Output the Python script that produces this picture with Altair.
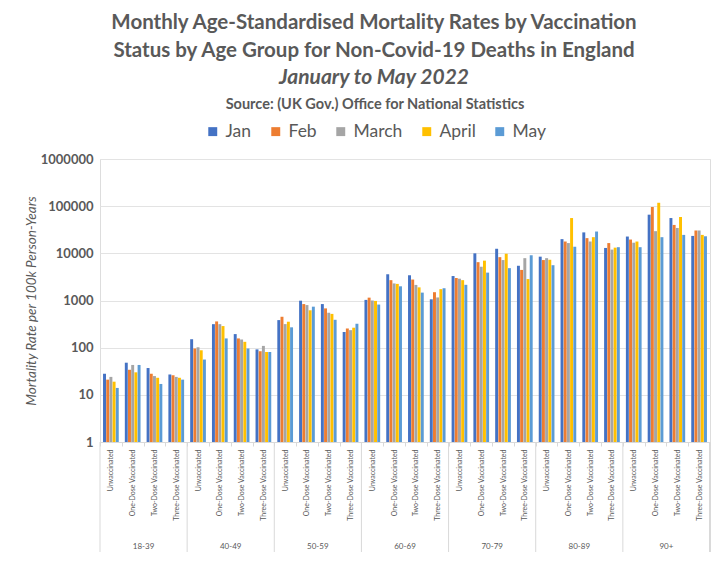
import altair as alt
import pandas as pd

ages = ["18-39", "40-49", "50-59", "60-69", "70-79", "80-89", "90+"]
statuses = ["Unvaccinated", "One-Dose Vaccinated", "Two-Dose Vaccinated", "Three-Dose Vaccinated"]
months = ["Jan", "Feb", "March", "April", "May"]
month_colors = ["#4472C4", "#ED7D31", "#A5A5A5", "#FFC000", "#5B9BD5"]

# rows: statuses; columns: Jan, Feb, March, April, May
rates_18_39 = [[28, 21, 24, 19, 14], [48, 34, 43, 30, 43], [37, 28, 25, 23, 17], [27, 26, 24, 23, 21]]
rates_40_49 = [[151, 96, 102, 88, 56], [315, 360, 315, 287, 157], [194, 157, 149, 133, 96], [92, 84, 109, 81, 81]]
rates_50_59 = [[384, 452, 316, 355, 270], [990, 840, 800, 620, 740], [840, 680, 550, 520, 390], [215, 255, 235, 265, 320]]
rates_60_69 = [[1030, 1150, 1000, 980, 820], [3600, 2700, 2300, 2250, 2000], [3430, 2780, 2140, 1900, 1470], [1060, 1500, 1160, 1740, 1820]]
rates_70_79 = [[3300, 3000, 2900, 2700, 2150], [10000, 6500, 5200, 7000, 3900], [12500, 8300, 7200, 9800, 4850], [5450, 4450, 7900, 2850, 9100]]
rates_80_89 = [[8500, 7200, 7900, 7300, 5600], [20000, 17800, 16500, 56000, 13800], [27800, 21000, 17800, 22000, 29000], [13000, 16500, 12000, 13200, 13500]]
rates_90_plus = [[22700, 19600, 16800, 17800, 13500], [66000, 96000, 29500, 118000, 22000], [56000, 40000, 34500, 59000, 24600], [23400, 30500, 30500, 24600, 23000]]

all_rates = [rates_18_39, rates_40_49, rates_50_59, rates_60_69, rates_70_79, rates_80_89, rates_90_plus]
y_ticks = [1, 10, 100, 1000, 10000, 100000, 1000000]

keys = [f"{a}|{s}" for a in ages for s in statuses]
rows = []
for a, table in zip(ages, all_rates):
    for s, vals in zip(statuses, table):
        for m, v in zip(months, vals):
            rows.append({"key": f"{a}|{s}", "age": a, "status": s, "month": m, "value": v})
df = pd.DataFrame(rows)
df_age = pd.DataFrame({"key": [f"{a}|{statuses[2]}" for a in ages], "age": ages})
df_sep = pd.DataFrame({"key": [f"{a}|{statuses[0]}" for a in ages]})

W, H = 610, 283
GREY = "#595959"

x_axis = alt.Axis(
    title=None,
    labelExpr="split(datum.value, '|')[1]",
    labelAngle=270,
    labelFontSize=7,
    labelFont="Lato",
    labelColor=GREY,
    labelPadding=3,
    tickBand="extent",
    tickSize=4,
    tickColor="#d9d9d9",
    domainColor="#d9d9d9",
    grid=False,
)
x_scale = alt.Scale(paddingInner=0, paddingOuter=0)

bars = alt.Chart(df).mark_bar().encode(
    x=alt.X("key:N", sort=keys, scale=x_scale, axis=x_axis),
    xOffset=alt.XOffset("month:N", sort=months, scale=alt.Scale(paddingOuter=0.95, paddingInner=0.08)),
    y=alt.Y(
        "value:Q",
        scale=alt.Scale(type="log", domain=[1, 1000000], nice=False),
        axis=alt.Axis(
            title="Mortality Rate per 100k Person-Years",
            titleFont="Lato",
            titleFontSize=13.5,
            titleFontStyle="italic",
            titleFontWeight="normal",
            titleColor=GREY,
            titlePadding=2,
            values=y_ticks,
            format="d",
            labelFont="Lato",
            labelFontSize=13,
            labelFontWeight="bold",
            labelColor=GREY,
            labelPadding=7,
            ticks=False,
            domain=False,
            gridColor="#e3e3e3",
        ),
    ),
    y2=alt.datum(1),
    color=alt.Color(
        "month:N",
        sort=months,
        scale=alt.Scale(domain=months, range=month_colors),
        legend=alt.Legend(
            orient="none",
            legendX=104,
            legendY=-61,
            direction="horizontal",
            title="Source: (UK Gov.) Office for National Statistics",
            titleAnchor="middle",
            titleLimit=0,
            titleFont="Lato",
            titleFontSize=14.5,
            titleFontWeight="bold",
            titleColor=GREY,
            titlePadding=10,
            labelFont="Lato",
            labelFontSize=17.5,
            labelColor=GREY,
            symbolType="square",
            symbolSize=80,
            symbolStrokeWidth=0,
            columnPadding=15,
            labelOffset=4,
        ),
    ),
)

age_labels = alt.Chart(df_age).mark_text(font="Lato", fontSize=8, color=GREY, baseline="middle").encode(
    x=alt.X("key:N", sort=keys, scale=x_scale, axis=x_axis, bandPosition=0),
    y=alt.value(H + 105),
    text="age:N",
)

separators = alt.Chart(df_sep).mark_rule(color="#d9d9d9", strokeWidth=1).encode(
    x=alt.X("key:N", sort=keys, scale=x_scale, axis=x_axis, bandPosition=0),
    y=alt.value(H),
    y2=alt.value(H + 110),
)

end_sep = alt.Chart(df_sep).mark_rule(color="#d9d9d9", strokeWidth=1).encode(
    x=alt.value(W),
    y=alt.value(H),
    y2=alt.value(H + 110),
)

chart = alt.layer(bars, separators, end_sep, age_labels).properties(
    width=W,
    height=H,
    padding={"left": 16, "top": 4, "right": 5, "bottom": 5},
    title=alt.Title(
        text=[
            "Monthly Age-Standardised Mortality Rates by Vaccination",
            "Status by Age Group for Non-Covid-19 Deaths in England",
        ],
        subtitle="January to May 2022",
        font="Lato",
        fontSize=20.5,
        fontWeight="bold",
        color=GREY,
        lineHeight=28,
        subtitleFont="Lato",
        subtitleFontSize=21,
        subtitleFontStyle="italic",
        subtitleFontWeight="bold",
        subtitleColor=GREY,
        subtitlePadding=6,
        anchor="middle",
        dx=-31,
        offset=10,
    ),
).configure_view(stroke=None).configure(background="white")

chart.save("out.html", embed_options={"renderer": "svg", "actions": False})
